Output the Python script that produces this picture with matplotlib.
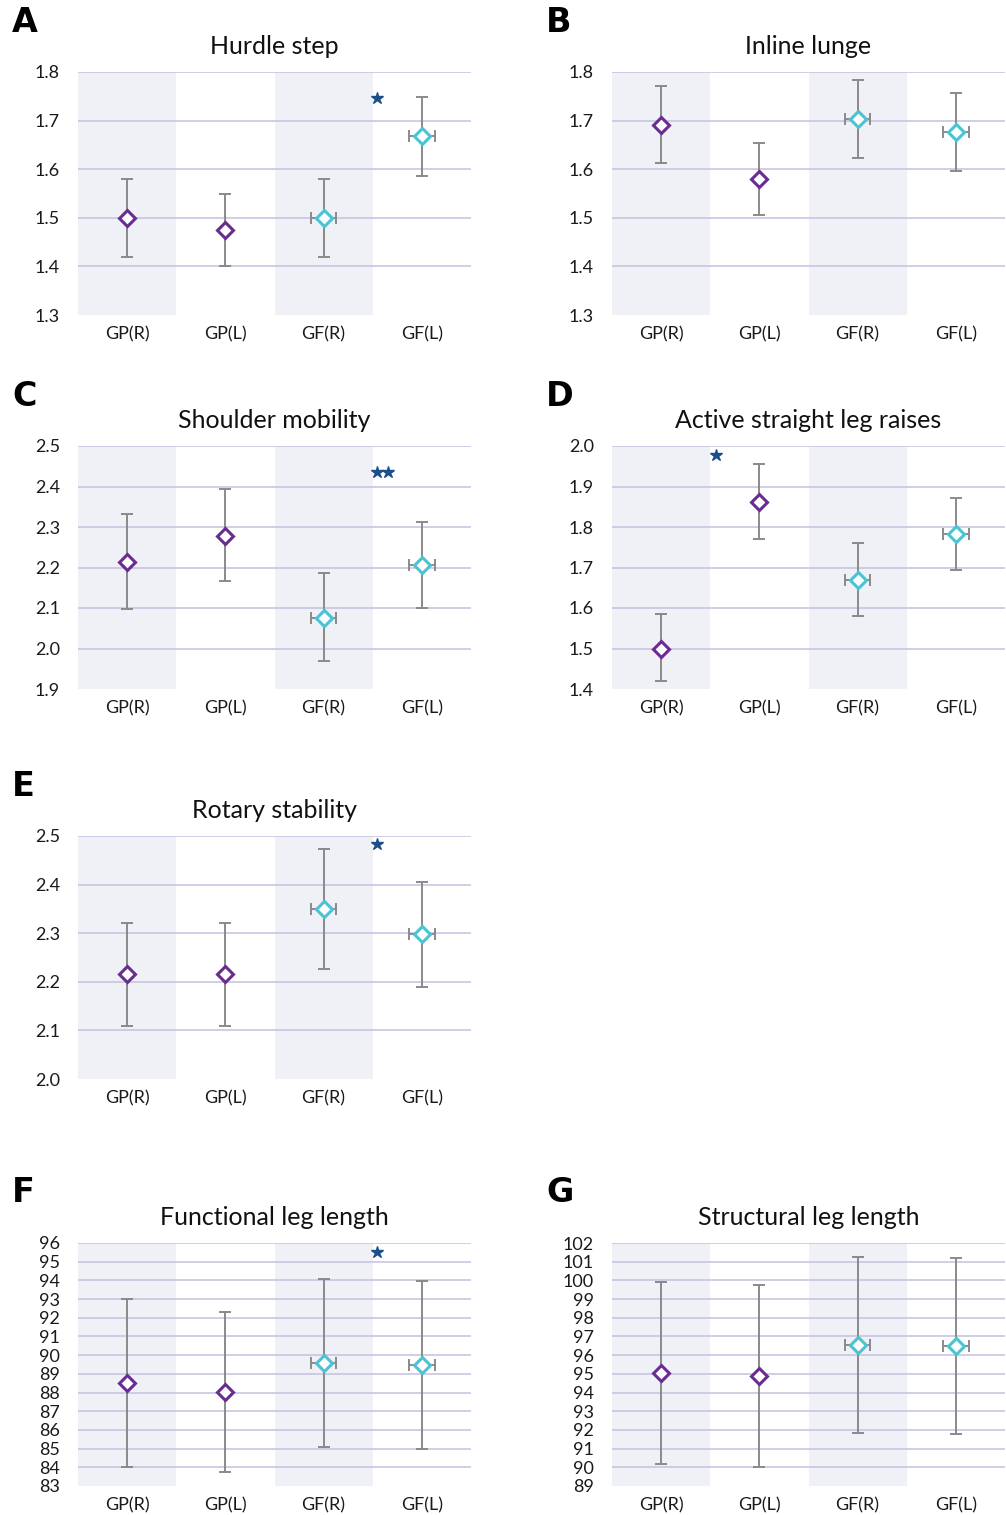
import numpy as np
import matplotlib.pyplot as plt

plt.rcParams['font.family'] = ['Lato', 'DejaVu Sans']

groups = ["GP(R)", "GP(L)", "GF(R)", "GF(L)"]

titles = ["Hurdle step", "Inline lunge", "Shoulder mobility",
          "Active straight leg raises", "Rotary stability",
          "Functional leg length", "Structural leg length"]
letters = ["A", "B", "C", "D", "E", "F", "G"]

# means, lower and upper ends of the error bars
means = [
    [1.50, 1.475, 1.50, 1.668],
    [1.691, 1.580, 1.703, 1.677],
    [2.214, 2.278, 2.075, 2.206],
    [1.500, 1.862, 1.669, 1.783],
    [2.216, 2.216, 2.350, 2.298],
    [88.51, 88.03, 89.58, 89.47],
    [95.04, 94.88, 96.54, 96.49],
]
lower = [
    [1.419, 1.401, 1.419, 1.586],
    [1.613, 1.506, 1.623, 1.596],
    [2.098, 2.167, 1.969, 2.100],
    [1.420, 1.770, 1.580, 1.694],
    [2.109, 2.109, 2.226, 2.189],
    [84.0, 83.75, 85.09, 84.98],
    [90.18, 90.02, 91.83, 91.77],
]
upper = [
    [1.580, 1.549, 1.580, 1.749],
    [1.771, 1.654, 1.784, 1.757],
    [2.332, 2.394, 2.186, 2.312],
    [1.585, 1.956, 1.760, 1.872],
    [2.321, 2.321, 2.473, 2.405],
    [93.0, 92.3, 94.07, 93.97],
    [99.91, 99.75, 101.25, 101.2],
]
ylims = [(1.3, 1.8), (1.3, 1.8), (1.9, 2.5), (1.4, 2.0), (2.0, 2.5), (83, 96), (89, 102)]
ysteps = [0.1, 0.1, 0.1, 0.1, 0.1, 1, 1]

# significance stars: (x position, y, count)
stars = {0: (2.54, 1.746, 1), 2: (2.54, 2.436, 2), 3: (0.56, 1.978, 1),
         4: (2.54, 2.484, 1), 5: (2.54, 95.52, 1)}

# axes boxes in pixels: left, top
W, H = 1006, 1515
boxes = [(78, 72), (612, 72), (78, 446), (612, 446), (78, 836), (78, 1243), (612, 1243)]
aw, ah = 393, 243

purple = "#6b2c91"
cyan = "#4cc3d3"
grey = "#8a8a8a"
gridc = "#c8c5e2"
shade = "#f0f0f7"

fig = plt.figure(figsize=(W / 100, H / 100), dpi=100)

for i in range(7):
    l, t = boxes[i]
    ax = fig.add_axes([l / W, 1 - (t + ah) / H, aw / W, ah / H])
    ax.set_xlim(-0.5, 3.5)
    lo, hi = ylims[i]
    ax.set_ylim(lo, hi)
    ax.axvspan(-0.5, 0.5, color=shade, zorder=0, lw=0)
    ax.axvspan(1.5, 2.5, color=shade, zorder=0, lw=0)
    ticks = np.arange(lo, hi + ysteps[i] / 2, ysteps[i])
    ax.set_yticks(ticks)
    if ysteps[i] < 1:
        ax.set_yticklabels([f"{v:.1f}" for v in ticks])
    else:
        ax.set_yticklabels([f"{v:.0f}" for v in ticks])
    for v in ticks[1:]:
        ax.axhline(v, color=gridc, lw=1.2, zorder=1)
    ax.set_xticks(range(4))
    ax.set_xticklabels(groups)
    ax.tick_params(length=0, labelsize=13, colors="#1a1a1a")
    ax.tick_params(axis="x", pad=8)
    ax.tick_params(axis="y", pad=13)
    for s in ax.spines.values():
        s.set_visible(False)

    m = np.array(means[i])
    err = np.array([m - np.array(lower[i]), np.array(upper[i]) - m])
    for j in range(4):
        col = purple if j < 2 else cyan
        xe = 0.13 if j >= 2 else None
        ax.errorbar(j, m[j], yerr=err[:, j:j + 1], xerr=xe, fmt="none",
                    ecolor=grey, elinewidth=1.4, capsize=4.5, capthick=1.4, zorder=2)
        ax.plot(j, m[j], marker="D", ms=8.5, mfc="white", mec=col, mew=2.2,
                ls="none", zorder=3)

    if i in stars:
        sx, sy, n = stars[i]
        for k in range(n):
            ax.plot(sx + k * 0.12, sy, marker="*", ms=9, color="#1b4f8c",
                    ls="none", zorder=4, clip_on=False)

    ax.set_title(titles[i], fontsize=18, pad=13, color="#111111")
    fig.text((l - 66) / W, 1 - (t - 50) / H, letters[i], fontsize=24,
             fontweight="bold", family="DejaVu Sans", va="center", ha="left")

fig.savefig("out.png", dpi=100)
